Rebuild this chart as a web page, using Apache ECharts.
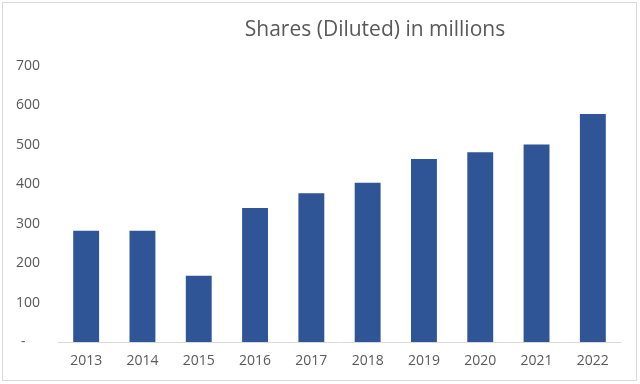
<!DOCTYPE html>
<html>
<head>
<meta charset="utf-8">
<script src="https://cdn.jsdelivr.net/npm/echarts@6/dist/echarts.min.js"></script>
<style>
html,body{margin:0;padding:0;background:#fff;}
#wrap{position:absolute;left:2px;top:2px;width:635px;height:379px;border:1px solid #d9d9d9;box-sizing:border-box;}
#c{position:absolute;left:0;top:0;width:640px;height:384px;}
</style>
</head>
<body>
<div id="wrap"></div>
<div id="c"></div>
<script>
const categories = ['2013','2014','2015','2016','2017','2018','2019','2020','2021','2022'];
const shares = [282, 282, 168, 340, 377, 404, 464, 481, 501, 578];
const yTicks = [0, 100, 200, 300, 400, 500, 600, 700];

const chart = echarts.init(document.getElementById('c'), null, {renderer:'canvas'});
chart.setOption({
  animation:false,
  title:{
    text:'Shares (Diluted) in millions',
    left:370, top:15, textAlign:'center',
    textStyle:{fontFamily:'Open Sans', fontSize:21, fontWeight:'normal', color:'#595959'}
  },
  grid:{left:58, right:19, top:66, bottom:42, containLabel:false},
  xAxis:{
    type:'category', data:categories,
    axisLine:{lineStyle:{color:'#d9d9d9', width:1}},
    axisTick:{show:false},
    axisLabel:{color:'#595959', fontFamily:'Open Sans', fontSize:14, margin:12}
  },
  yAxis:{
    type:'value', min:yTicks[0], max:yTicks[yTicks.length-1], interval:100,
    splitLine:{show:false},
    axisLine:{show:false}, axisTick:{show:false},
    axisLabel:{color:'#595959', fontFamily:'Open Sans', fontSize:14, margin:18,
      formatter: v => v===0 ? '-    ' : String(v)}
  },
  series:[{
    type:'bar', data:shares, barWidth:'46%',
    itemStyle:{color:'#2f5597'}
  }]
});
</script>
</body>
</html>
